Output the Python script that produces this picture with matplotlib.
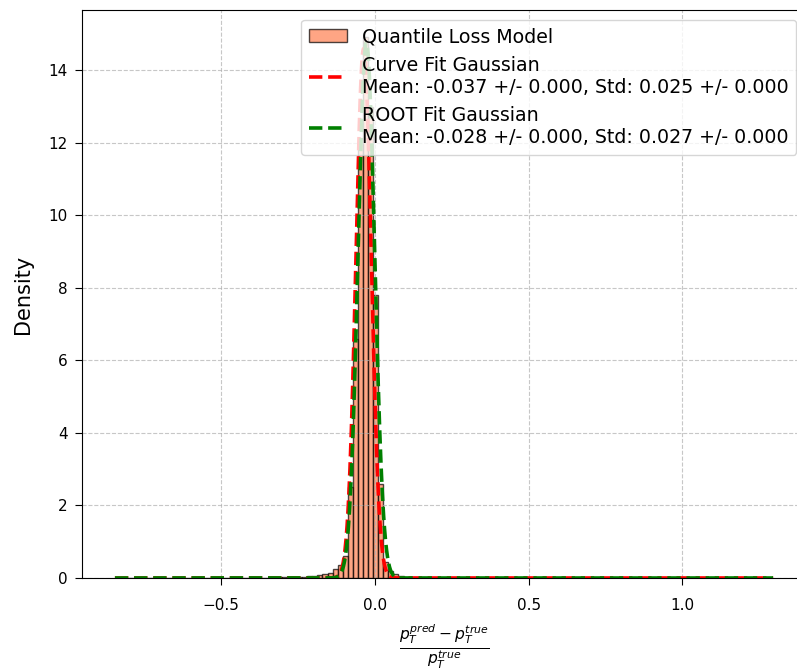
import numpy as np
import matplotlib
matplotlib.use("Agg")
import matplotlib.pyplot as plt

# Relative pT residual histogram (density) with two Gaussian fits
x_min, x_max = -0.846, 1.295
n_bins = 130

# densities of the non-empty bins, starting at bin index first_bin
first_bin = 30
densities = [
    0.01, 0.01, 0.015, 0.02, 0.025, 0.03, 0.035, 0.04, 0.05, 0.06,   # bins 30-39
    0.08, 0.10, 0.15, 0.25, 0.35, 0.60,                              # bins 40-45
    2.5, 6.6, 12.0, 14.92, 13.0, 7.8, 2.6,                           # bins 46-52
    0.45, 0.2, 0.1, 0.06, 0.04, 0.03, 0.025, 0.02, 0.015, 0.01,      # bins 53-62
    0.01, 0.01,                                                      # bins 63-64
]

# Gaussian fit results
curve_mean, curve_mean_err = -0.037, 0.000
curve_std, curve_std_err = 0.025, 0.000
curve_amp = 14.6
root_mean, root_mean_err = -0.028, 0.000
root_std, root_std_err = 0.027, 0.000

edges = np.linspace(x_min, x_max, n_bins + 1)
centers = 0.5 * (edges[:-1] + edges[1:])
weights = np.zeros(n_bins)
weights[first_bin:first_bin + len(densities)] = densities

fig = plt.figure(figsize=(7.97, 6.72), dpi=100)
ax = fig.add_axes([0.1029, 0.1399, 0.9084, 0.8452])

ax.hist(centers, bins=edges, weights=weights, color="coral", alpha=0.7,
        edgecolor="black", label="Quantile Loss Model")

xs = np.linspace(x_min, x_max, 2000)
curve_y = curve_amp * np.exp(-0.5 * ((xs - curve_mean) / curve_std) ** 2)
root_y = np.exp(-0.5 * ((xs - root_mean) / root_std) ** 2) / (root_std * np.sqrt(2 * np.pi))

ax.plot(xs, curve_y, "r--", lw=2.6,
        label=f"Curve Fit Gaussian\nMean: {curve_mean:.3f} +/- {curve_mean_err:.3f}, "
              f"Std: {curve_std:.3f} +/- {curve_std_err:.3f}")
ax.plot(xs, root_y, "g--", lw=2.6,
        label=f"ROOT Fit Gaussian\nMean: {root_mean:.3f} +/- {root_mean_err:.3f}, "
              f"Std: {root_std:.3f} +/- {root_std_err:.3f}")

ax.set_xlabel(r"$\frac{p_T^{pred} - p_T^{true}}{p_T^{true}}$", fontsize=16, labelpad=7)
ax.set_ylabel("Density", fontsize=15, labelpad=11)
ax.tick_params(labelsize=11, length=5)
ax.tick_params(axis="x", pad=9.5)
ax.tick_params(axis="y", pad=5.4)
ax.grid(True, linestyle="--", alpha=0.7)
ax.legend(loc="upper right", fontsize=13.7)

fig.savefig("out.png", dpi=100)
